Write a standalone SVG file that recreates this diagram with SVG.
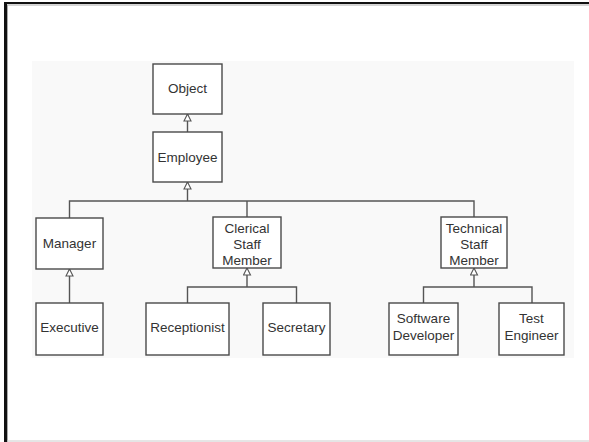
<svg xmlns="http://www.w3.org/2000/svg" width="589" height="442" viewBox="0 0 589 442">
<defs>
<style>
.box{fill:#fff;stroke:#4a4a4a;stroke-width:1.4}
.t{font-family:"Liberation Sans",Arial,sans-serif;font-size:13.5px;fill:#333;text-anchor:middle}
.c{fill:none;stroke:#555;stroke-width:1.4}
.a{fill:none;stroke:#555;stroke-width:1.4;marker-end:url(#tri)}
</style>
<marker id="tri" markerUnits="userSpaceOnUse" markerWidth="9" markerHeight="9" viewBox="-1 -1 9 9" refX="7" refY="3.5" orient="auto">
<path d="M0,0 L7,3.5 L0,7 Z" fill="#fff" stroke="#555" stroke-width="1.1"/>
</marker>
</defs>
<rect x="0" y="0" width="589" height="442" fill="#fff"/>
<rect x="32" y="61" width="542" height="297" fill="#f9f9f9"/>
<g id="frame">
<line x1="4" y1="3" x2="589" y2="3" stroke="#111" stroke-width="2.2"/>
<line x1="5.5" y1="2" x2="5.5" y2="442" stroke="#111" stroke-width="3"/>
<line x1="7" y1="5" x2="589" y2="5" stroke="#aaa" stroke-width="1"/>
<line x1="7.5" y1="5" x2="7.5" y2="442" stroke="#aaa" stroke-width="1"/>
<line x1="7" y1="441" x2="589" y2="441" stroke="#ccc" stroke-width="1"/>
</g>
<g id="connectors">
<path class="a" d="M187.5,132 V114"/>
<path class="a" d="M187.5,201 V182"/>
<path class="c" d="M69.5,218 V201 H474 V217"/>
<path class="c" d="M247,201 V217"/>
<path class="a" d="M69.5,303 V269"/>
<path class="c" d="M187.5,303 V287 H296.5 V303"/>
<path class="a" d="M247,287 V268"/>
<path class="c" d="M423.5,303 V287 H532 V303"/>
<path class="a" d="M474,287 V268"/>
</g>
<g id="object"><rect class="box" x="153" y="64" width="69" height="50"/><text class="t" x="187.5" y="92.5">Object</text></g>
<g id="employee"><rect class="box" x="153" y="132" width="69" height="50"/><text class="t" x="187.5" y="162">Employee</text></g>
<g id="manager"><rect class="box" x="36" y="218" width="67" height="51"/><text class="t" x="69.5" y="247.5">Manager</text></g>
<g id="clerical"><rect class="box" x="213" y="217" width="68" height="51"/><text class="t" x="247" y="232.5">Clerical</text><text class="t" x="247" y="248.5">Staff</text><text class="t" x="247" y="264.5">Member</text></g>
<g id="technical"><rect class="box" x="441" y="217" width="66" height="51"/><text class="t" x="474" y="232.5">Technical</text><text class="t" x="474" y="248.5">Staff</text><text class="t" x="474" y="264.5">Member</text></g>
<g id="executive"><rect class="box" x="36" y="303" width="67" height="52"/><text class="t" x="69.5" y="332">Executive</text></g>
<g id="receptionist"><rect class="box" x="146" y="303" width="83" height="52"/><text class="t" x="187.5" y="332">Receptionist</text></g>
<g id="secretary"><rect class="box" x="263" y="303" width="67" height="52"/><text class="t" x="296.5" y="332">Secretary</text></g>
<g id="software"><rect class="box" x="389" y="303" width="69" height="52"/><text class="t" x="423.5" y="322.5">Software</text><text class="t" x="423.5" y="340">Developer</text></g>
<g id="test"><rect class="box" x="499" y="303" width="65" height="52"/><text class="t" x="531.5" y="322.5">Test</text><text class="t" x="531.5" y="340">Engineer</text></g>
</svg>
